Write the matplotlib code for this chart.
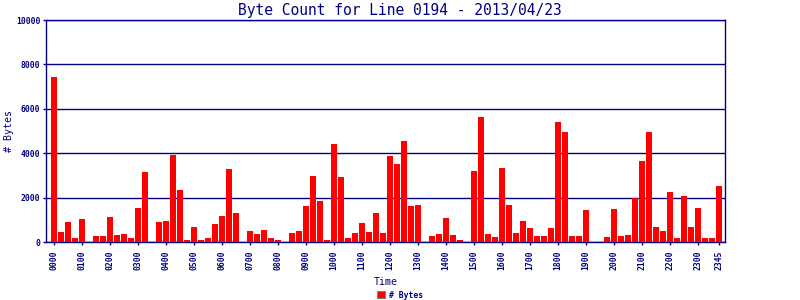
import matplotlib
matplotlib.use("Agg")
import matplotlib.pyplot as plt
import numpy as np

# 15-minute slots, 0000 .. 2345
times = ["%02d%02d" % (h, m) for h in range(24) for m in (0, 15, 30, 45)]

byte_counts = [
    7450, 470, 880, 200, 1015, 0, 290, 290,
    1105, 335, 380, 200, 1515, 3150, 0, 880,
    925, 3925, 2335, 105, 695, 105, 200, 790,
    1150, 3290, 1290, 0, 515, 380, 560, 200,
    105, 0, 425, 515, 1605, 2970, 1835, 105,
    4425, 2925, 200, 425, 835, 470, 1290, 425,
    3880, 3515, 4560, 1605, 1650, 0, 290, 380,
    1060, 335, 105, 0, 3195, 5645, 378, 240,
    3345, 1680, 420, 960, 645, 285, 285, 645,
    5415, 4965, 285, 285, 1455, 0, 0, 240,
    1500, 285, 330, 1980, 3660, 4965, 690, 510,
    2265, 195, 2085, 690, 1545, 195, 195, 2535,
]

tick_idx = list(range(0, 96, 4)) + [95]
tick_labels = [times[i] for i in tick_idx]
y_ticks = [0, 2000, 4000, 6000, 8000, 10000]

navy = "#000080"
mono = "DejaVu Sans Mono"

fig = plt.figure(figsize=(8, 3), dpi=100)
ax = fig.add_axes([46 / 800, 58 / 300, 679 / 800, 222 / 300])

x = np.arange(len(byte_counts))
bars = ax.bar(x, byte_counts, width=0.86, color="#ff0000", linewidth=0,
              label="# Bytes", zorder=3)

ax.set_xlim(-1.15, 95.85)
ax.set_ylim(0, 10000)
ax.set_yticks(y_ticks)
ax.set_yticklabels([str(v) for v in y_ticks], fontsize=5.8, fontweight="bold",
                   family=mono, color=navy)
ax.set_xticks(tick_idx)
ax.set_xticklabels(tick_labels, rotation=90, fontsize=5.8, fontweight="bold",
                   family=mono, color=navy)
ax.tick_params(axis="both", colors=navy, length=2, width=1, pad=2)
ax.tick_params(axis="x", pad=4)

ax.yaxis.grid(True, color=navy, linewidth=1.0, zorder=1)
ax.set_axisbelow(True)
for s in ax.spines.values():
    s.set_color(navy)
    s.set_linewidth(1.0)

ax.set_xlabel("Time", fontsize=7.2, family=mono, color=navy)
ax.xaxis.set_label_coords(0.5, -35 / 222)
ax.set_ylabel("# Bytes", fontsize=7.2, family=mono, color=navy)
ax.yaxis.set_label_coords(-32 / 679, 0.5)
fig.text(0.5, 1 - 10 / 300, "Byte Count for Line 0194 - 2013/04/23",
         ha="center", va="center", fontsize=10.5, family=mono, color=navy)

leg = fig.legend(handles=[bars], loc="center", bbox_to_anchor=(0.5, 5 / 300),
                 frameon=False, handlelength=1.0, handleheight=0.9,
                 handletextpad=0.4, borderpad=0,
                 prop={"family": mono, "size": 5.8, "weight": "bold"})
for t in leg.get_texts():
    t.set_color(navy)
for p in leg.get_patches():
    p.set_edgecolor("#808080")
    p.set_linewidth(0.8)

fig.savefig("out.png", dpi=100)
